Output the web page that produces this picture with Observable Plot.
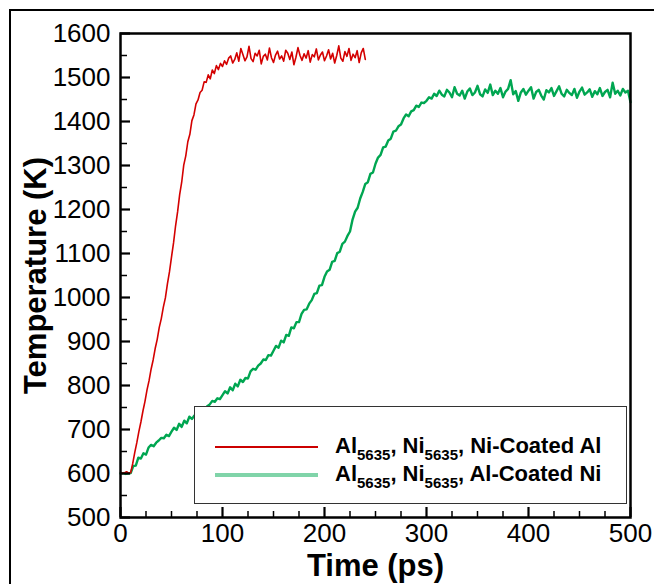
<!DOCTYPE html>
<html><head><meta charset="utf-8">
<script src="https://cdn.jsdelivr.net/npm/d3@7"></script>
<script src="https://cdn.jsdelivr.net/npm/@observablehq/plot@0.6"></script>
<style>
html,body{margin:0;padding:0;background:#fff;overflow:hidden;}
#wrap{position:relative;width:654px;height:584px;background:#fff;}
#outer{position:absolute;left:9px;top:9px;width:700px;height:700px;border:2px solid #000;box-sizing:border-box;pointer-events:none;}
#legend{position:absolute;left:194px;top:406px;width:433px;height:98px;border:1px solid #333;background:#fff;box-sizing:border-box;font-family:"Liberation Sans",Arial,sans-serif;font-weight:bold;color:#000;}
.ln{position:absolute;left:20px;width:103px;}
.tx{position:absolute;left:140px;font-size:22px;line-height:22px;white-space:nowrap;}
.tx .s{font-size:15px;position:relative;top:7px;line-height:0;}
</style>
</head><body>
<div id="wrap"><div id="outer"></div></div>
<script>
// ---- data ----
const redTime = [0,2,4,6,8,10,12,14,16,18,20,22,24,26,28,30,32,34,36,38,40,42,44,46,48,50,52,54,56,58,60,62,64,66,68,70,72,74,76,78,80,82,84,86,88,90,92,94,96,98,100,102,104,106,108,110,112,114,116,118,120,122,124,126,128,130,132,134,136,138,140,142,144,146,148,150,152,154,156,158,160,162,164,166,168,170,172,174,176,178,180,182,184,186,188,190,192,194,196,198,200,202,204,206,208,210,212,214,216,218,220,222,224,226,228,230,232,234,236,238,240];
const redTemp = [
  603,600,602,604,601,602,623,648,670,695,
  717,742,764,790,811,837,858,884,905,932,
  952,978,999,1031,1058,1092,1124,1163,1195,1234,
  1262,1301,1322,1354,1371,1402,1415,1440,1449,1466,
  1471,1490,1489,1506,1497,1517,1509,1527,1518,1532,
  1525,1538,1530,1544,1549,1533,1541,1556,1537,1566,
  1552,1538,1547,1571,1543,1536,1555,1549,1562,1531,
  1548,1553,1540,1567,1545,1534,1551,1560,1542,1549,
  1537,1562,1555,1541,1558,1529,1546,1568,1550,1539,
  1554,1544,1561,1535,1552,1547,1565,1540,1551,1558,
  1538,1549,1563,1542,1555,1533,1550,1572,1544,1537,
  1559,1548,1566,1539,1553,1545,1561,1534,1556,1566,
  1541];
const greenTime = [0,2.5,5,7.5,10,12.5,15,17.5,20,22.5,25,27.5,30,32.5,35,37.5,40,42.5,45,47.5,50,52.5,55,57.5,60,62.5,65,67.5,70,72.5,75,77.5,80,82.5,85,87.5,90,92.5,95,97.5,100,102.5,105,107.5,110,112.5,115,117.5,120,122.5,125,127.5,130,132.5,135,137.5,140,142.5,145,147.5,150,152.5,155,157.5,160,162.5,165,167.5,170,172.5,175,177.5,180,182.5,185,187.5,190,192.5,195,197.5,200,202.5,205,207.5,210,212.5,215,217.5,220,222.5,225,227.5,230,232.5,235,237.5,240,242.5,245,247.5,250,252.5,255,257.5,260,262.5,265,267.5,270,272.5,275,277.5,280,282.5,285,287.5,290,292.5,295,297.5,300,302.5,305,307.5,310,312.5,315,317.5,320,322.5,325,327.5,330,332.5,335,337.5,340,342.5,345,347.5,350,352.5,355,357.5,360,362.5,365,367.5,370,372.5,375,377.5,380,382.5,385,387.5,390,392.5,395,397.5,400,402.5,405,407.5,410,412.5,415,417.5,420,422.5,425,427.5,430,432.5,435,437.5,440,442.5,445,447.5,450,452.5,455,457.5,460,462.5,465,467.5,470,472.5,475,477.5,480,482.5,485,487.5,490,492.5,495,497.5,500];
const greenTemp = [
  600,601,599,600,601,617,618,636,634,646,
  643,659,665,662,670,675,681,680,688,685,
  695,704,699,713,706,720,714,729,724,732,
  729,744,748,745,753,757,765,763,771,769,
  778,787,782,796,789,804,798,813,808,817,
  816,832,838,836,845,850,859,858,869,868,
  879,890,886,902,898,915,913,932,930,944,
  944,963,972,973,986,994,1008,1010,1027,1028,
  1047,1059,1063,1081,1083,1101,1104,1122,1127,1140,
  1150,1177,1195,1204,1225,1240,1258,1262,1281,1284,
  1304,1318,1324,1341,1343,1357,1361,1377,1379,1389,
  1393,1407,1416,1412,1423,1426,1436,1433,1443,1442,
  1447,1455,1452,1463,1458,1470,1461,1457,1472,1466,
  1455,1478,1463,1459,1470,1452,1468,1475,1460,1466,
  1481,1462,1457,1473,1465,1484,1460,1470,1463,1476,
  1455,1468,1474,1494,1462,1469,1447,1466,1474,1461,
  1470,1478,1452,1467,1472,1459,1450,1471,1466,1476,
  1458,1469,1480,1463,1457,1472,1465,1460,1474,1454,
  1468,1477,1461,1466,1473,1456,1469,1462,1476,1458,
  1467,1472,1455,1488,1463,1470,1459,1474,1466,1470,
  1444];
const seriesNames = ["Ni-Coated Al", "Al-Coated Ni"];
const xMajor = [0,100,200,300,400,500];
const xMinor = [25,50,75,125,150,175,225,250,275,325,350,375,425,450,475];
const yMajor = [500,600,700,800,900,1000,1100,1200,1300,1400,1500,1600];
const yMinor = [550,650,750,850,950,1050,1150,1250,1350,1450,1550];
const xTitle = "Time (ps)";
const yTitle = "Temperature (K)";

const red = redTime.map((t, i) => ({t, T: redTemp[i]}));
const green = greenTime.map((t, i) => ({t, T: greenTemp[i]}));

const chart = Plot.plot({
  width: 654, height: 584,
  marginLeft: 120, marginRight: 24, marginTop: 33, marginBottom: 67,
  x: {domain: [0, 500]},
  y: {domain: [500, 1600]},
  style: {fontFamily: "'Liberation Sans', Arial, sans-serif", fontSize: "26px", color: "#000", background: "#fff", overflow: "visible"},
  marks: [
    Plot.line(green, {x: "t", y: "T", stroke: "#00a651", strokeWidth: 2.4}),
    Plot.line(red, {x: "t", y: "T", stroke: "#d40000", strokeWidth: 1.6}),
    Plot.axisX({ticks: xMinor, tickSize: -6, strokeWidth: 1.5, fill: "none", label: null}),
    Plot.axisX({ticks: xMajor, tickSize: -10, tickPadding: 16, strokeWidth: 2.2, label: null, tickFormat: d => String(d)}),
    Plot.axisY({ticks: yMinor, tickSize: -7, strokeWidth: 1.5, fill: "none", label: null}),
    Plot.axisY({ticks: yMajor, tickSize: -10, tickPadding: 20, strokeWidth: 2.2, label: null, tickFormat: d => String(d)}),
    Plot.frame({stroke: "#000", strokeWidth: 2.5}),
    Plot.text([xTitle], {frameAnchor: "bottom", dy: 58, lineAnchor: "bottom", fontWeight: "bold", fontSize: 31, text: d => d}),
    Plot.text([yTitle], {frameAnchor: "left", dx: -75, rotate: -90, lineAnchor: "bottom", textAnchor: "middle", fontWeight: "bold", fontSize: 31, text: d => d})
  ]
});
const wrap = document.getElementById("wrap");
wrap.insertBefore(chart, wrap.firstChild);
chart.style.position = "absolute"; chart.style.left = "0"; chart.style.top = "0";

// legend
const legend = document.createElement("div");
legend.id = "legend";
const colors = ["#cc0000", "#80d4a9"];
const widths = [2, 3.5];
const lineTops = [39, 66];
const textTops = [28, 56];
seriesNames.forEach((name, i) => {
  const ln = document.createElement("div");
  ln.className = "ln";
  ln.style.top = lineTops[i] + "px";
  ln.style.height = widths[i] + "px";
  ln.style.background = colors[i];
  legend.appendChild(ln);
  const tx = document.createElement("div");
  tx.className = "tx";
  tx.style.top = textTops[i] + "px";
  tx.innerHTML = 'Al<span class="s">5635</span>, Ni<span class="s">5635</span>, ' + name;
  legend.appendChild(tx);
});
wrap.appendChild(legend);
</script>
</body></html>
